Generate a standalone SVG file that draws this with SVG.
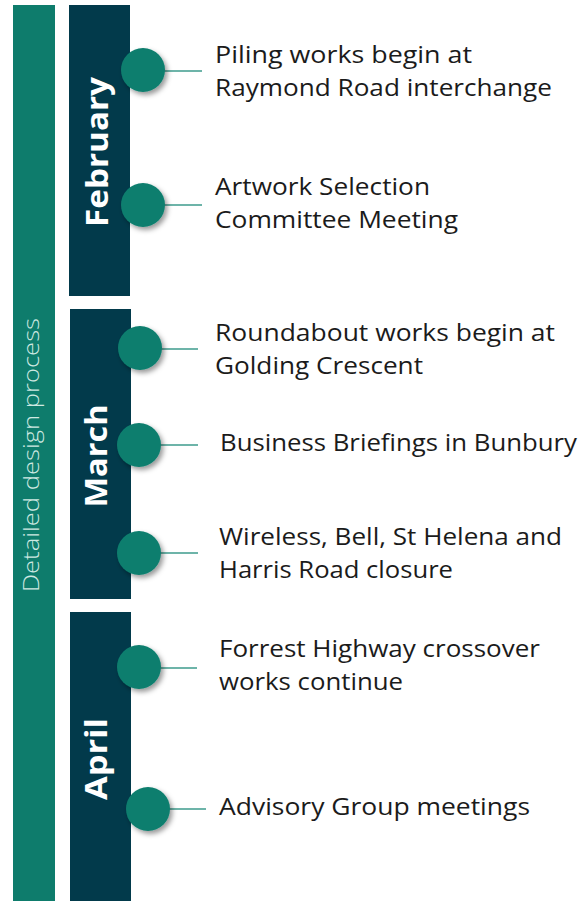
<svg xmlns="http://www.w3.org/2000/svg" width="585" height="901" viewBox="0 0 585 901">
<defs>
<style>
.bar{fill:#0e7c6c}
.month{fill:#023a4b}
.dot{fill:#0c7e6e;filter:url(#sh)}
.conn{stroke:#3d9b8c;stroke-width:1.5;fill:none}
.lbl{font-family:"Open Sans","Noto Sans","Liberation Sans",sans-serif;font-size:24px;fill:#1b1b1b}
.mlbl{font-family:"Open Sans","Noto Sans","Liberation Sans",sans-serif;font-size:30px;font-weight:700;fill:#ffffff}
.side{font-family:"Open Sans","Noto Sans","Liberation Sans",sans-serif;font-size:22px;font-weight:300;fill:#cfe9e2}
</style>
<filter id="sh" x="-50%" y="-50%" width="200%" height="200%">
<feDropShadow dx="2.5" dy="3" stdDeviation="2.5" flood-color="#000" flood-opacity="0.4"/>
</filter>
</defs>
<rect width="585" height="901" fill="#ffffff"/>
<g id="side-bar">
<rect class="bar" x="13" y="5" width="42" height="896"/>
<text class="side" transform="translate(39,455) rotate(-90)" text-anchor="middle" textLength="274" lengthAdjust="spacingAndGlyphs">Detailed design process</text>
</g>
<g id="february">
<rect class="month" x="69" y="5" width="61" height="291"/>
<text class="mlbl" transform="translate(108,152) rotate(-90)" text-anchor="middle" textLength="150" lengthAdjust="spacingAndGlyphs">February</text>
</g>
<g id="march">
<rect class="month" x="70" y="309" width="61" height="290"/>
<text class="mlbl" transform="translate(107,456) rotate(-90)" text-anchor="middle" textLength="103" lengthAdjust="spacingAndGlyphs">March</text>
</g>
<g id="april">
<rect class="month" x="70" y="612" width="61" height="289"/>
<text class="mlbl" transform="translate(107,759) rotate(-90)" text-anchor="middle" textLength="82" lengthAdjust="spacingAndGlyphs">April</text>
</g>
<g id="connectors">
<line class="conn" x1="160" y1="71" x2="202" y2="71"/>
<line class="conn" x1="160" y1="205" x2="202" y2="205"/>
<line class="conn" x1="157" y1="349" x2="198" y2="349"/>
<line class="conn" x1="156" y1="445" x2="198" y2="445"/>
<line class="conn" x1="156" y1="553" x2="198" y2="553"/>
<line class="conn" x1="156" y1="668" x2="197" y2="668"/>
<line class="conn" x1="165" y1="809" x2="206" y2="809"/>
</g>
<g id="e1">
<circle class="dot" cx="143" cy="70" r="22"/>
<text class="lbl" x="215" y="63" textLength="257" lengthAdjust="spacingAndGlyphs">Piling works begin at</text>
<text class="lbl" x="215" y="96" textLength="337" lengthAdjust="spacingAndGlyphs">Raymond Road interchange</text>
</g>
<g id="e2">
<circle class="dot" cx="143" cy="205" r="22"/>
<text class="lbl" x="215" y="195" textLength="215" lengthAdjust="spacingAndGlyphs">Artwork Selection</text>
<text class="lbl" x="215" y="228" textLength="243" lengthAdjust="spacingAndGlyphs">Committee Meeting</text>
</g>
<g id="e3">
<circle class="dot" cx="140" cy="348" r="22"/>
<text class="lbl" x="215" y="341" textLength="340" lengthAdjust="spacingAndGlyphs">Roundabout works begin at</text>
<text class="lbl" x="215" y="374" textLength="208" lengthAdjust="spacingAndGlyphs">Golding Crescent</text>
</g>
<g id="e4">
<circle class="dot" cx="139" cy="445" r="22"/>
<text class="lbl" x="220" y="451" textLength="357" lengthAdjust="spacingAndGlyphs">Business Briefings in Bunbury</text>
</g>
<g id="e5">
<circle class="dot" cx="139" cy="553" r="22"/>
<text class="lbl" x="219" y="545" textLength="343" lengthAdjust="spacingAndGlyphs">Wireless, Bell, St Helena and</text>
<text class="lbl" x="219" y="578" textLength="234" lengthAdjust="spacingAndGlyphs">Harris Road closure</text>
</g>
<g id="e6">
<circle class="dot" cx="139" cy="667" r="22"/>
<text class="lbl" x="219" y="657" textLength="321" lengthAdjust="spacingAndGlyphs">Forrest Highway crossover</text>
<text class="lbl" x="219" y="690" textLength="184" lengthAdjust="spacingAndGlyphs">works continue</text>
</g>
<g id="e7">
<circle class="dot" cx="148" cy="809" r="22"/>
<text class="lbl" x="219" y="815" textLength="311" lengthAdjust="spacingAndGlyphs">Advisory Group meetings</text>
</g>
</svg>
